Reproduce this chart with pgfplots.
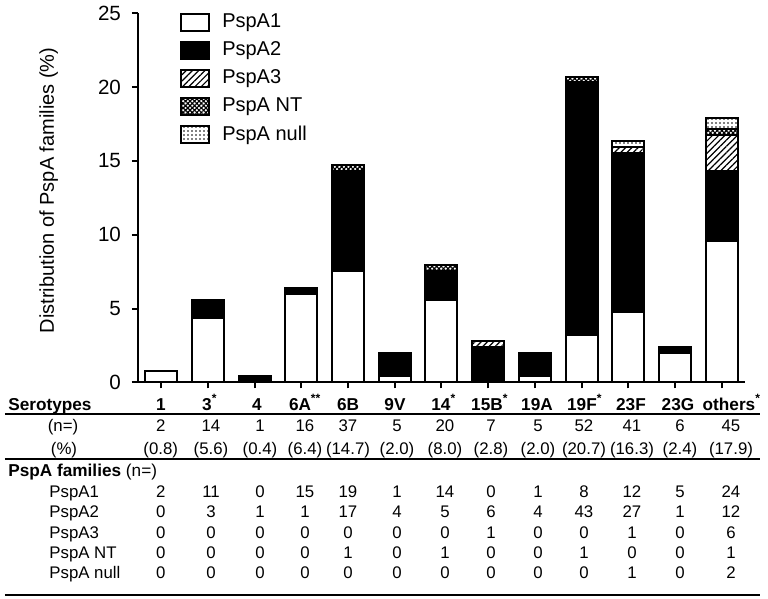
\documentclass[border=0pt]{standalone}
\usepackage{pgfplots}
\pgfplotsset{compat=1.18}
\usepackage{pgfplotstable}
\usepackage{fontspec}
\setmainfont{Liberation Sans}
\usetikzlibrary{patterns,patterns.meta}

% percentages (count / 251 * 100)
\pgfplotstableread{
x  a1     a2     a3     nt     nul
0  0.797  0      0      0      0
1  4.382  1.195  0      0      0
2  0      0.398  0      0      0
3  5.976  0.398  0      0      0
4  7.570  6.773  0      0.398  0
5  0.398  1.594  0      0      0
6  5.578  1.992  0      0.398  0
7  0      2.390  0.398  0      0
8  0.398  1.594  0      0      0
9  3.187  17.131 0      0.398  0
10 4.781  10.757 0.398  0      0.398
11 1.992  0.398  0      0      0
12 9.562  4.781  2.390  0.398  0.797
}\data

\pgfplotsset{mylegend/.style={legend image code/.code={\draw[##1,line width=1pt] (0pt,-4.2pt) rectangle (14pt,4.2pt);}}}

\def\colx{{160.7,211,260,305,348,397,445,491,538,584,632,680,731}}
\newcommand\tabrow[2]{%
  \foreach \v [count=\i from 0] in {#2} {%
    \pgfmathsetmacro\cx{\colx[\i]}%
    \node[anchor=base, inner sep=0pt, font=\fontsize{8.4}{10}\selectfont] at (\cx,#1) {\v};
  }}
\newcommand\tabrowp[2]{%
  \foreach \v [count=\i from 0] in {#2} {%
    \pgfmathsetmacro\cx{\colx[\i]}%
    \node[anchor=base, inner sep=0pt, font=\fontsize{8.4}{10}\selectfont] at (\cx,#1) {(\v)};
  }}

\begin{document}
\begin{tikzpicture}
\path[use as bounding box] (0,0) rectangle (384pt,-299.5pt);
\begin{axis}[
  at={(69pt,-191.15pt)}, anchor=south west,
  scale only axis, width=303.5pt, height=184.5pt,
  xmin=-0.5, xmax=12.5, ymin=0, ymax=25,
  axis x line*=bottom, axis y line*=left,
  axis line style={line width=1pt},
  ybar stacked, bar width=16pt,
  xtick={0,...,12}, xticklabels={},
  ytick={0,5,10,15,20,25},
  tick align=outside,
  major tick length=3pt,
  every tick/.style={black, line width=1pt},
  /pgf/number format/assume math mode=true,
  yticklabel style={font=\fontsize{10.3}{12}\selectfont, xshift=-2pt},
  ylabel={Distribution of PspA families (\%)},
  ylabel style={font=\fontsize{10}{12}\selectfont, at={(axis description cs:-0.147,0.52)}, anchor=center},
  clip=false,
  legend style={at={(axis description cs:0.069,1.005)}, anchor=north west, draw=none, fill=none,
    font=\fontsize{10}{11}\selectfont, row sep=3.6pt, column sep=5pt, inner sep=0pt,
    nodes={inner sep=1pt}},
  legend cell align=left,
]
\addplot[fill=white, draw=black, line width=1pt, mylegend] table[x=x,y=a1] {\data};
\addplot[fill=black, draw=black, line width=1pt, mylegend] table[x=x,y=a2] {\data};
\addplot[fill=white, draw=black, line width=1pt, postaction={pattern={Lines[angle=45,distance=2.2pt,line width=0.6pt]}}, mylegend] table[x=x,y=a3] {\data};
\addplot[fill=white, draw=black, line width=1pt, postaction={pattern={Hatch[angle=45,distance=1.6pt,line width=0.6pt]}}, mylegend] table[x=x,y=nt] {\data};
\addplot[fill=white, draw=black, line width=1pt, postaction={pattern={Dots[distance=2pt,radius=0.45pt]}}, mylegend] table[x=x,y=nul] {\data};
\legend{PspA1, PspA2, PspA3, PspA NT, PspA null}
\draw[line width=1pt] (axis cs:-0.63,0) -- (axis cs:-0.5,0);
\end{axis}

\begin{scope}[x=0.5pt, y=-0.5pt]
% header row
\begin{scope}[every node/.style={anchor=base, inner sep=0pt, font=\bfseries\fontsize{8.6}{10}\selectfont}]
\node[anchor=base west] at (8,410.5) {Serotypes};
\node at (161,410.5) {1};
\node at (207,410.5) {3\rlap{\textsuperscript{*}}};
\node at (257,410.5) {4};
\node at (300,410.5) {6A\rlap{\textsuperscript{**}}};
\node at (348,410.5) {6B};
\node at (395,410.5) {9V};
\node at (441,410.5) {14\rlap{\textsuperscript{*}}};
\node at (487,410.5) {15B\rlap{\textsuperscript{*}}};
\node at (537,410.5) {19A};
\node at (582,410.5) {19F\rlap{\textsuperscript{*}}};
\node at (631,410.5) {23F};
\node at (678,410.5) {23G};
\node at (729,410.5) {others\rlap{\textsuperscript{*}}};
\node[anchor=base west] at (8,476.5) {PspA families {\mdseries (n=)}};
\end{scope}
\begin{scope}[every node/.style={anchor=base, inner sep=0pt, font=\fontsize{8.4}{10}\selectfont}]
\node at (63,432) {(n=)};
\node at (64,455) {(\%)};
\node[anchor=base west] at (49,497.5) {PspA1};
\node[anchor=base west] at (49,518) {PspA2};
\node[anchor=base west] at (49,538.5) {PspA3};
\node[anchor=base west] at (49,558.5) {PspA NT};
\node[anchor=base west] at (49,579) {PspA null};
\end{scope}
\tabrow{432}{2,14,1,16,37,5,20,7,5,52,41,6,45}
\tabrowp{455}{0.8,5.6,0.4,6.4,14.7,2.0,8.0,2.8,2.0,20.7,16.3,2.4,17.9}
\tabrow{497.5}{2,11,0,15,19,1,14,0,1,8,12,5,24}
\tabrow{518}{0,3,1,1,17,4,5,6,4,43,27,1,12}
\tabrow{538.5}{0,0,0,0,0,0,0,1,0,0,1,0,6}
\tabrow{558.5}{0,0,0,0,1,0,1,0,0,1,0,0,1}
\tabrow{579}{0,0,0,0,0,0,0,0,0,0,1,0,2}
\draw[line width=1pt] (5,414) -- (760,414);
\draw[line width=1pt] (5,459.5) -- (760,459.5);
\draw[line width=1pt] (5,595) -- (760,595);
\end{scope}
\end{tikzpicture}
\end{document}
